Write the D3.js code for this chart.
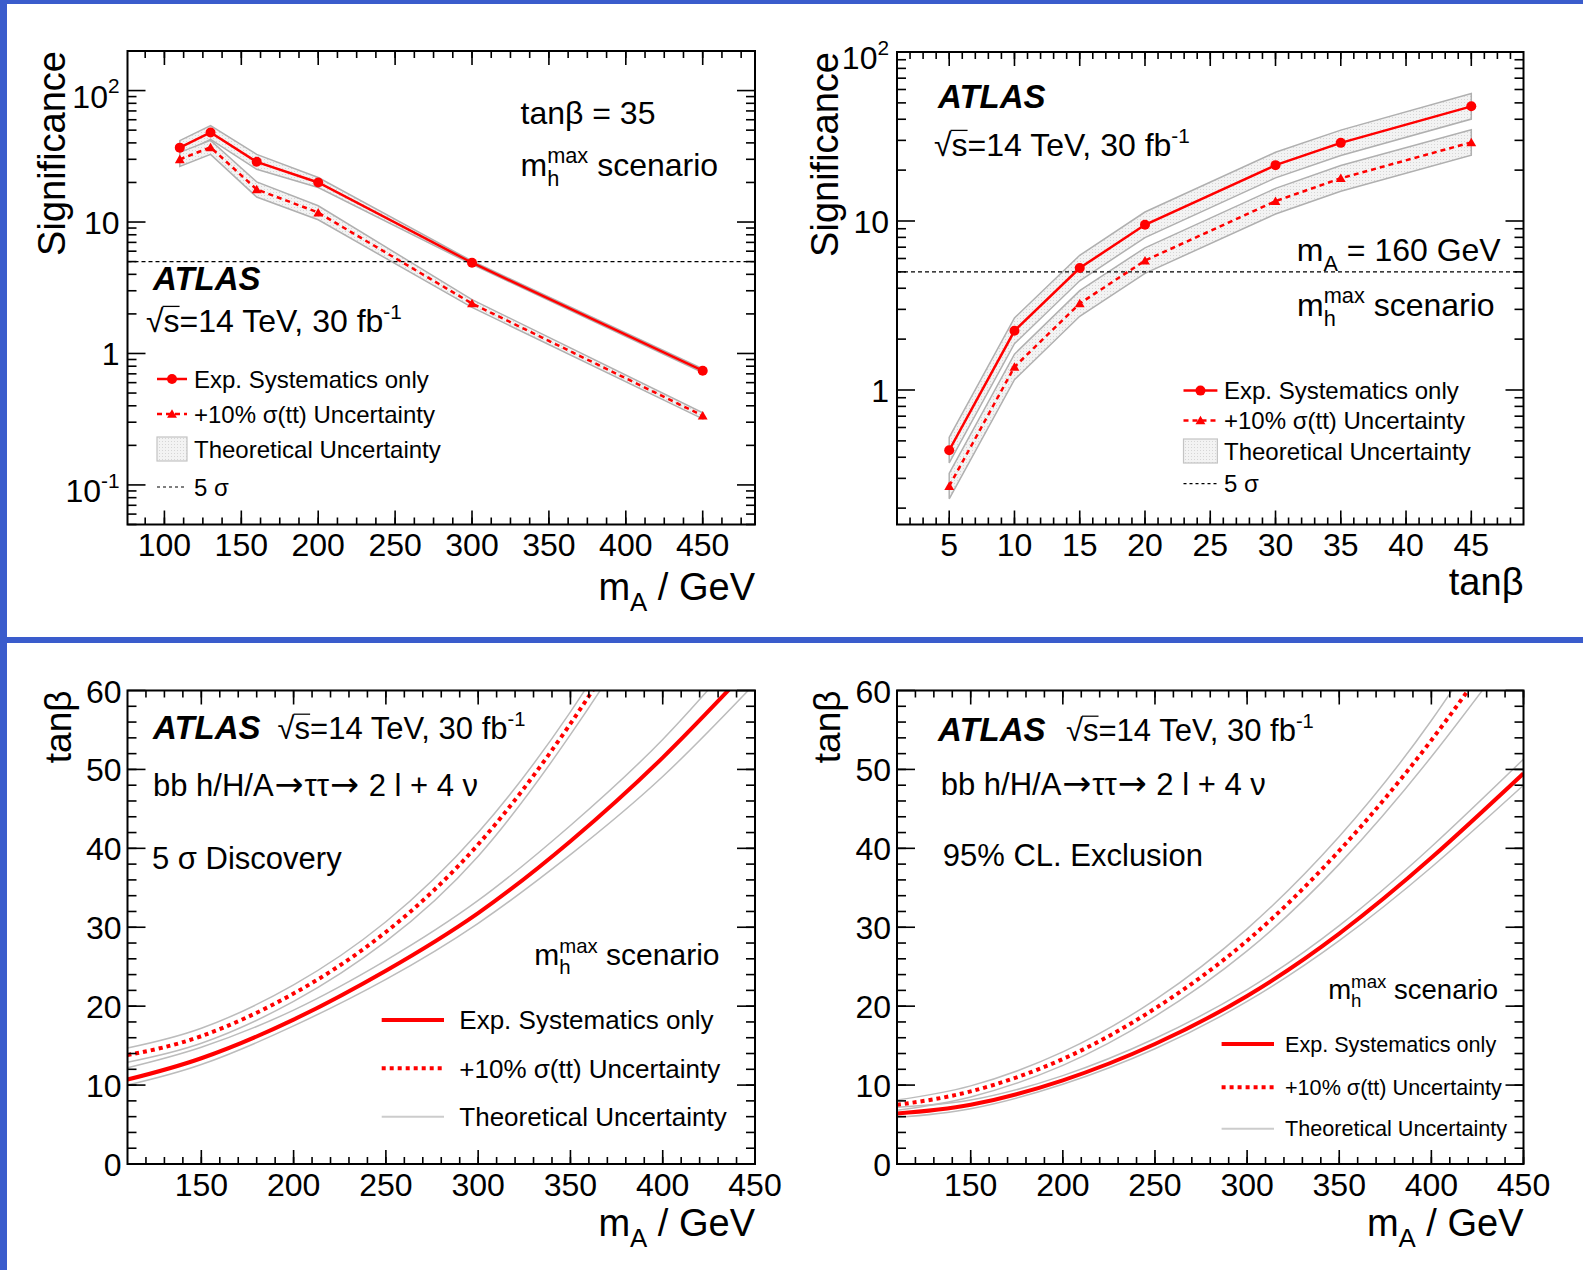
<!DOCTYPE html>
<html><head><meta charset="utf-8">
<script src="https://cdn.jsdelivr.net/npm/d3@7"></script>
<style>
html,body{margin:0;padding:0;background:#fff;}
svg{display:block;font-family:"Liberation Sans",Arial,Helvetica,sans-serif;}
text{white-space:pre;}
</style></head><body>
<svg id="c" width="1583" height="1270"></svg>
<script>
// ---------------- data ----------------
const p1MassA = [110,130,160,200,300,450];
const p1ExpSig = [36.8,48,28.7,20,4.9,0.74];
const p1ExpLow = [32.6,42.5,25.2,18.3,4.76,0.715];
const p1ExpHigh = [41.6,54.2,32.7,21.8,5.05,0.766];
const p1TtSig = [30,37,17.7,11.8,2.4,0.336];
const p1TtLow = [26.5,32.7,15.5,10.4,2.24,0.318];
const p1TtHigh = [33.9,41.8,20.2,13.3,2.57,0.354];

const p2TanB = [5,10,15,20,30,35,45];
const p2ExpSig = [0.44,2.24,5.27,9.5,21.4,29,47.7];
const p2ExpLow = [0.37,1.88,4.43,7.98,18.0,24.4,40.1];
const p2ExpHigh = [0.524,2.67,6.27,11.3,25.5,34.5,56.8];
const p2TtSig = [0.27,1.37,3.25,5.83,13.1,17.9,29.2];
const p2TtLow = [0.227,1.15,2.73,4.9,11.0,15.0,24.5];
const p2TtHigh = [0.321,1.63,3.87,6.94,15.6,21.3,34.7];

const curveMassA = [110,150,200,250,300,350,400,450];
const discExp = [10.7,13.4,18.3,24.5,31.8,40.9,51.5,63.6];
const discExpLow = [10.0,12.6,17.5,23.4,30.5,39.2,49.1,60.9];
const discExpHigh = [12.2,14.8,19.5,25.8,33.4,42.9,53.8,66.9];
const discTt = [13.8,16.2,21.6,29.4,40.5,55.8,75,99];
const discTtLow = [12.9,15.3,20.6,28.2,39.0,54.4,73,96];
const discTtHigh = [14.7,17.2,22.7,30.7,42.0,57.3,77,102];

const exclExp = [6.4,7.5,10.6,15.2,21.3,29.2,38.8,49.5];
const exclExpLow = [5.9,7.0,10.1,14.6,20.6,28.3,37.6,48.0];
const exclExpHigh = [7.2,8.1,11.2,15.9,22.1,30.2,40.2,51.3];
const exclTt = [7.5,9.2,13.3,19.7,28.3,39.7,53.7,70];
const exclTtLow = [6.8,8.5,12.5,18.7,27.0,38.0,51.6,67];
const exclTtHigh = [8.1,9.9,14.2,20.8,29.8,41.5,56.2,74];

const p1XTicks = [100,150,200,250,300,350,400,450];
const p2XTicks = [5,10,15,20,25,30,35,40,45];
const p1YTicks = [0.1,1,10,100];
const p2YTicks = [1,10,100];
const curveXTicks = [150,200,250,300,350,400,450];
const curveYTicks = [0,10,20,30,40,50,60];
const fiveSigma = 5;

const legendLabels = ["Exp. Systematics only","+10% \u03c3(tt) Uncertainty","Theoretical Uncertainty","5 \u03c3"];

// ---------------- setup ----------------
const W=1583,H=1270;
const svg=d3.select('#c');
svg.append('rect').attr('width',W).attr('height',H).attr('fill','#fff');
const BLUE='#3a5ccc', RED='#ff0000', GREY='#b0b0b0';

const defs=svg.append('defs');
const pat=defs.append('pattern').attr('id','stip').attr('patternUnits','userSpaceOnUse').attr('width',3).attr('height',3);
pat.append('rect').attr('width',3).attr('height',3).attr('fill','#f3f3f3');
pat.append('rect').attr('width',1).attr('height',1).attr('fill','#d6d6d6');

function addPart(grp,cx,p,fs){
  const s=fs*(p.s||1);
  const t=grp.append('text').attr('x',cx+(p.dx||0)*fs).attr('y',(p.dy||0)*fs)
    .attr('font-size',s).attr('fill','#000').text(p.t);
  if(p.b) t.attr('font-weight','bold');
  if(p.i) t.attr('font-style','italic');
  if(p.f) t.attr('font-family',p.f);
  const w=t.node().getComputedTextLength()+(p.dx||0)*fs+(p.after||0)*fs;
  if(p.over){
    grp.append('line').attr('x1',cx-1).attr('x2',cx+w).attr('y1',-0.80*fs).attr('y2',-0.80*fs)
      .attr('stroke','#000').attr('stroke-width',Math.max(1,fs*0.04));
  }
  return w;
}
function rich(g,x,y,fs,parts,anchor){
  const grp=g.append('g');
  let cx=0;
  parts.forEach(p=>{
    if(p.stack){
      let w=0; p.stack.forEach(q=>{w=Math.max(w,addPart(grp,cx,q,fs));}); cx+=w;
    } else cx+=addPart(grp,cx,p,fs);
  });
  const dx=anchor==='end'?x-cx:anchor==='middle'?x-cx/2:x;
  grp.attr('transform',`translate(${dx},${y})`);
  return grp;
}
const SQRTS=[{t:'\u221a'},{t:'s',over:true},{t:'=14 TeV, 30 fb'},{t:'-1',s:0.65,dy:-0.42}];
const MHMAX=[{t:'m'},{stack:[{t:'max',s:0.68,dy:-0.40},{t:'h',s:0.68,dy:0.30}]},{t:' scenario'}];
const MA_GEV=[{t:'m'},{t:'A',s:0.68,dy:0.30},{t:' / GeV'}];
const ARROW='"DejaVu Sans"';
const PROCESS=[{t:'bb h/H/A'},{t:'\u2192',f:ARROW,s:1.12,dx:0.03,after:0.03},{t:'\u03c4\u03c4'},{t:'\u2192',f:ARROW,s:1.12,dx:0.03,after:0.03},{t:' 2 l + 4 \u03bd'}];

function panel(P){
  const g=svg.append('g');
  const id='clip'+Math.random().toString(36).slice(2);
  defs.append('clipPath').attr('id',id).append('rect').attr('x',P.l).attr('y',P.t).attr('width',P.r-P.l).attr('height',P.b-P.t);
  const plot=g.append('g').attr('clip-path',`url(#${id})`);
  return {g,plot};
}
function ticks(g,P,xs,ys,xMaj,xMin,yMaj,yMin){
  const tk=g.append('g').attr('stroke','#000').attr('stroke-width',1.6);
  const ln=(x1,y1,x2,y2)=>tk.append('line').attr('x1',x1).attr('y1',y1).attr('x2',x2).attr('y2',y2);
  xMin.forEach(v=>{const x=xs(v);ln(x,P.b,x,P.b-7);ln(x,P.t,x,P.t+7);});
  xMaj.forEach(v=>{const x=xs(v);ln(x,P.b,x,P.b-14);ln(x,P.t,x,P.t+14);});
  yMin.forEach(v=>{const y=ys(v);ln(P.l,y,P.l+9,y);ln(P.r,y,P.r-9,y);});
  yMaj.forEach(v=>{const y=ys(v);ln(P.l,y,P.l+18,y);ln(P.r,y,P.r-18,y);});
  g.append('rect').attr('x',P.l).attr('y',P.t).attr('width',P.r-P.l).attr('height',P.b-P.t)
    .attr('fill','none').attr('stroke','#000').attr('stroke-width',2);
}
function range(a,b,s){const o=[];for(let v=a;v<=b+1e-9;v+=s)o.push(+v.toFixed(6));return o;}
function logMinors(dom){
  const o=[];for(let d=-3;d<=3;d++)for(let k=2;k<=9;k++){const v=k*Math.pow(10,d);if(v>=dom[0]&&v<=dom[1])o.push(v);}return o;
}
function logLabel(g,P,ys,v){
  const e=Math.round(Math.log10(v));
  const y=ys(v);
  if(e===0) rich(g,P.l-8,y+12,32,[{t:'1'}],'end');
  else if(e===1) rich(g,P.l-8,y+12,32,[{t:'10'}],'end');
  else rich(g,P.l-8,y+17,32,[{t:'10'},{t:String(e),s:0.65,dy:-0.45}],'end');
}
function band(plot,xs,ys,xv,lo,hi,curve,filled){
  const pts=xv.map((x,i)=>[xs(x),ys(hi[i])]).concat(xv.map((x,i)=>[xs(x),ys(lo[i])]).reverse());
  if(filled){
    plot.append('path').attr('d',d3.line()(pts)+'Z').attr('fill','url(#stip)').attr('stroke',GREY).attr('stroke-width',1.5);
  } else {
    const l=d3.line().x(d=>xs(d[0])).y(d=>ys(d[1])).curve(curve);
    plot.append('path').attr('d',l(xv.map((x,i)=>[x,hi[i]]))).attr('fill','none').attr('stroke','#bcbcbc').attr('stroke-width',1.5);
    plot.append('path').attr('d',l(xv.map((x,i)=>[x,lo[i]]))).attr('fill','none').attr('stroke','#bcbcbc').attr('stroke-width',1.5);
  }
}
function series(plot,xs,ys,xv,yv,dashed,marker){
  const l=d3.line().x(d=>xs(d[0])).y(d=>ys(d[1]));
  const p=plot.append('path').attr('d',l(xv.map((x,i)=>[x,yv[i]]))).attr('fill','none').attr('stroke',RED).attr('stroke-width',2.5);
  if(dashed)p.attr('stroke-dasharray','5,4');
  xv.forEach((x,i)=>{
    if(marker==='circle') plot.append('circle').attr('cx',xs(x)).attr('cy',ys(yv[i])).attr('r',5).attr('fill',RED);
    else plot.append('path').attr('d',d3.symbol(d3.symbolTriangle,42)()).attr('transform',`translate(${xs(x)},${ys(yv[i])+1})`).attr('fill',RED);
  });
}
function legendSig(g,x0,x1,tx,rows,fs){
  const xm=(x0+x1)/2;
  g.append('line').attr('x1',x0).attr('x2',x1).attr('y1',rows[0]).attr('y2',rows[0]).attr('stroke',RED).attr('stroke-width',2.5);
  g.append('circle').attr('cx',xm).attr('cy',rows[0]).attr('r',5).attr('fill',RED);
  g.append('line').attr('x1',x0).attr('x2',x1).attr('y1',rows[1]).attr('y2',rows[1]).attr('stroke',RED).attr('stroke-width',2.5).attr('stroke-dasharray','5,4');
  g.append('path').attr('d',d3.symbol(d3.symbolTriangle,42)()).attr('transform',`translate(${xm},${rows[1]+1})`).attr('fill',RED);
  g.append('rect').attr('x',x0).attr('y',rows[2]-12).attr('width',x1-x0).attr('height',24).attr('fill','url(#stip)').attr('stroke','#c4c4c4').attr('stroke-width',1.2);
  g.append('line').attr('x1',x0).attr('x2',x1).attr('y1',rows[3]).attr('y2',rows[3]).attr('stroke','#000').attr('stroke-width',1.2).attr('stroke-dasharray','3,3');
  legendLabels.forEach((t,i)=>rich(g,tx,rows[i]+fs*0.36,fs,[{t}],'start'));
}
function legendCurve(g,x0,x1,tx,rows,fs){
  g.append('line').attr('x1',x0).attr('x2',x1).attr('y1',rows[0]).attr('y2',rows[0]).attr('stroke',RED).attr('stroke-width',4);
  g.append('line').attr('x1',x0).attr('x2',x1).attr('y1',rows[1]).attr('y2',rows[1]).attr('stroke',RED).attr('stroke-width',4).attr('stroke-dasharray','4,4');
  g.append('line').attr('x1',x0).attr('x2',x1).attr('y1',rows[2]).attr('y2',rows[2]).attr('stroke','#cccccc').attr('stroke-width',2);
  legendLabels.slice(0,3).forEach((t,i)=>rich(g,tx,rows[i]+fs*0.36,fs,[{t}],'start'));
}
function yTitle(g,x,y,fs,txt){
  g.append('text').attr('transform',`translate(${x},${y}) rotate(-90)`).attr('text-anchor','end')
    .attr('font-size',fs).attr('fill','#000').text(txt);
}

// ---------------- panel 1 ----------------
{
  const P={l:127.5,r:755,t:51,b:524.5};
  const {g,plot}=panel(P);
  const xs=d3.scaleLinear().domain([76,484]).range([P.l,P.r]);
  const ys=d3.scaleLog().domain([0.05,200]).range([P.b,P.t]);
  band(plot,xs,ys,p1MassA,p1ExpLow,p1ExpHigh,null,true);
  band(plot,xs,ys,p1MassA,p1TtLow,p1TtHigh,null,true);
  plot.append('line').attr('x1',P.l).attr('x2',P.r).attr('y1',ys(fiveSigma)).attr('y2',ys(fiveSigma)).attr('stroke','#000').attr('stroke-width',1.3).attr('stroke-dasharray','4,3');
  series(plot,xs,ys,p1MassA,p1ExpSig,false,'circle');
  series(plot,xs,ys,p1MassA,p1TtSig,true,'tri');
  ticks(g,P,xs,ys,p1XTicks,range(87.5,475,12.5),p1YTicks,logMinors([0.05,200]));
  p1XTicks.forEach(v=>rich(g,xs(v),P.b+31.5,32,[{t:String(v)}],'middle'));
  p1YTicks.forEach(v=>logLabel(g,P,ys,v));
  yTitle(g,65,51,38,'Significance');
  rich(g,P.r,600,38,MA_GEV,'end');
  rich(g,520.5,124,32,[{t:'tan\u03b2 = 35'}],'start');
  rich(g,520.5,176,32,MHMAX,'start');
  rich(g,153,290,33,[{t:'ATLAS',b:true,i:true}],'start');
  rich(g,146,332,32,SQRTS,'start');
  legendSig(g,157,187,194,[379,414,449,487],24);
}
// ---------------- panel 2 ----------------
{
  const P={l:897,r:1523.5,t:52,b:524.5};
  const {g,plot}=panel(P);
  const xs=d3.scaleLinear().domain([1,49]).range([P.l,P.r]);
  const ys=d3.scaleLog().domain([0.16,100]).range([P.b,P.t]);
  band(plot,xs,ys,p2TanB,p2ExpLow,p2ExpHigh,null,true);
  band(plot,xs,ys,p2TanB,p2TtLow,p2TtHigh,null,true);
  plot.append('line').attr('x1',P.l).attr('x2',P.r).attr('y1',ys(fiveSigma)).attr('y2',ys(fiveSigma)).attr('stroke','#000').attr('stroke-width',1.3).attr('stroke-dasharray','4,3');
  series(plot,xs,ys,p2TanB,p2ExpSig,false,'circle');
  series(plot,xs,ys,p2TanB,p2TtSig,true,'tri');
  ticks(g,P,xs,ys,p2XTicks,range(2,48,1),p2YTicks,logMinors([0.16,100]));
  p2XTicks.forEach(v=>rich(g,xs(v),P.b+31,32,[{t:String(v)}],'middle'));
  p2YTicks.forEach(v=>logLabel(g,P,ys,v));
  yTitle(g,838,52,38,'Significance');
  rich(g,P.r,595,38,[{t:'tan\u03b2'}],'end');
  rich(g,938,108,33,[{t:'ATLAS',b:true,i:true}],'start');
  rich(g,934,156,32,SQRTS,'start');
  rich(g,1500.7,261,32,[{t:'m'},{t:'A',s:0.68,dy:0.30},{t:' = 160 GeV'}],'end');
  rich(g,1494.6,316,32,MHMAX,'end');
  legendSig(g,1183.5,1217.4,1224,[390.6,420.4,451,483.7],24);
}
// ---------------- panels 3 & 4 ----------------
function curvePanel(P,exp,expLo,expHi,tt,ttLo,ttHi){
  const {g,plot}=panel(P);
  const xs=d3.scaleLinear().domain([110,450]).range([P.l,P.r]);
  const ys=d3.scaleLinear().domain([0,60]).range([P.b,P.t]);
  const cv=d3.curveNatural;
  band(plot,xs,ys,curveMassA,ttLo,ttHi,cv,false);
  band(plot,xs,ys,curveMassA,expLo,expHi,cv,false);
  const l=d3.line().x(d=>xs(d[0])).y(d=>ys(d[1])).curve(cv);
  plot.append('path').attr('d',l(curveMassA.map((x,i)=>[x,tt[i]]))).attr('fill','none').attr('stroke',RED).attr('stroke-width',4).attr('stroke-dasharray','4,4');
  plot.append('path').attr('d',l(curveMassA.map((x,i)=>[x,exp[i]]))).attr('fill','none').attr('stroke',RED).attr('stroke-width',4);
  ticks(g,P,xs,ys,curveXTicks,range(120,450,10),curveYTicks,range(2,58,2));
  curveXTicks.forEach(v=>rich(g,xs(v),P.b+31.5,32,[{t:String(v)}],'middle'));
  curveYTicks.forEach(v=>rich(g,P.l-6,ys(v)+12,32,[{t:String(v)}],'end'));
  rich(g,P.r,1236,38,MA_GEV,'end');
  return g;
}
{
  const P={l:127.5,r:755,t:690.5,b:1164};
  const g=curvePanel(P,discExp,discExpLow,discExpHigh,discTt,discTtLow,discTtHigh);
  yTitle(g,71,690.5,37,'tan\u03b2');
  rich(g,153,739,33,[{t:'ATLAS',b:true,i:true}],'start');
  rich(g,277.6,739,31,SQRTS,'start');
  rich(g,153,796,31,PROCESS,'start');
  rich(g,152,869,31,[{t:'5 \u03c3 Discovery'}],'start');
  rich(g,719.5,965,30,MHMAX,'end');
  legendCurve(g,381.7,444,459.3,[1020,1068.3,1116.7],26);
}
{
  const P={l:897,r:1523.5,t:690.5,b:1164};
  const g=curvePanel(P,exclExp,exclExpLow,exclExpHigh,exclTt,exclTtLow,exclTtHigh);
  yTitle(g,840,690.5,37,'tan\u03b2');
  rich(g,938,741,33,[{t:'ATLAS',b:true,i:true}],'start');
  rich(g,1066,741,31,SQRTS,'start');
  rich(g,940.7,795,31,PROCESS,'start');
  rich(g,942.8,866,31,[{t:'95% CL. Exclusion'}],'start');
  rich(g,1498,999,27.5,MHMAX,'end');
  legendCurve(g,1221.6,1274,1285,[1044,1087.3,1128.7],21.6);
}
// ---------------- blue borders ----------------
svg.append('rect').attr('x',0).attr('y',0).attr('width',W).attr('height',4).attr('fill',BLUE);
svg.append('rect').attr('x',0).attr('y',0).attr('width',7).attr('height',H).attr('fill',BLUE);
svg.append('rect').attr('x',0).attr('y',637).attr('width',W).attr('height',6).attr('fill',BLUE);
</script>
</body></html>
